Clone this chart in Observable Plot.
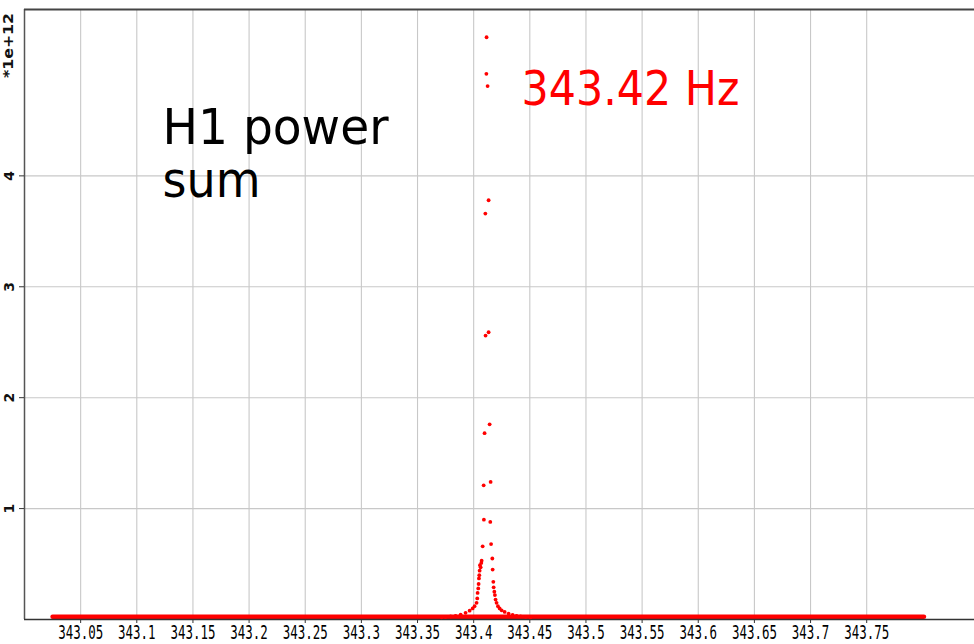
<!DOCTYPE html>
<html><head><meta charset="utf-8">
<script src="https://cdn.jsdelivr.net/npm/d3@7"></script>
<script src="https://cdn.jsdelivr.net/npm/@observablehq/plot@0.6"></script>
<style>html,body{margin:0;padding:0;background:#fff;} svg{display:block;}</style>
</head><body><div id="chart"></div>
<script>
// Frequency (Hz) of each sample around the line
const freqHz = [
  343.3715, 343.3750, 343.3795, 343.3839, 343.3884, 343.3928, 343.3964, 343.3991,
  343.4008, 343.4026, 343.4032, 343.4035, 343.4041, 343.4044, 343.4047, 343.4050,
  343.4053, 343.4056, 343.4062, 343.4068, 343.4071, 343.4080, 343.4089, 343.4091,
  343.4097, 343.4106, 343.4104, 343.4113, 343.4115, 343.4124,
  343.4133, 343.4133, 343.4142, 343.4151, 343.4148, 343.4155, 343.4166, 343.4169,
  343.4175, 343.4178, 343.4184, 343.4189, 343.4195, 343.4204, 343.4216, 343.4231,
  343.4249, 343.4276, 343.4311, 343.4347, 343.4382, 343.4418, 343.4463, 343.4507
];
// Power sum (units of 1e12)
const power = [
  0.020, 0.022, 0.027, 0.033, 0.044, 0.060, 0.080, 0.100,
  0.120, 0.150, 0.190, 0.240, 0.280, 0.320, 0.370, 0.400,
  0.440, 0.490, 0.470, 0.510, 0.530, 0.660, 1.210, 0.900,
  1.680, 2.560, 3.660, 4.920, 5.250, 4.810,
  3.780, 2.590, 1.760, 1.240, 0.880, 0.680, 0.550, 0.450,
  0.340, 0.290, 0.250, 0.220, 0.180, 0.150, 0.120, 0.100,
  0.083, 0.068, 0.053, 0.042, 0.033, 0.029, 0.024, 0.020
];
// Flat noise floor over the whole band
const baselineFreq = [343.025, 343.801];
const baselinePower = [0.025, 0.025];

const xTicks = [343.05, 343.1, 343.15, 343.2, 343.25, 343.3, 343.35, 343.4, 343.45, 343.5, 343.55, 343.6, 343.65, 343.7, 343.75];
const xTickLabels = ["343.05", "343.1", "343.15", "343.2", "343.25", "343.3", "343.35", "343.4", "343.45", "343.5", "343.55", "343.6", "343.65", "343.7", "343.75"];
const yTicks = [1, 2, 3, 4];
const yTickLabels = ["1", "2", "3", "4"];
const yExponentLabel = "*1e+12";
const titleLines = ["H1 power", "sum"];
const peakLabel = "343.42 Hz";
const xDomain = [343.0, 343.846];
const yDomain = [0, 5.5];

const points = freqHz.map((f, i) => ({f, p: power[i]}));
const base = baselineFreq.map((f, i) => ({f, p: baselinePower[i]}));

const chart = Plot.plot({
  width: 974, height: 644,
  marginLeft: 24, marginRight: 0, marginTop: 9, marginBottom: 25,
  x: {domain: xDomain},
  y: {domain: yDomain},
  style: {background: "#fff", color: "#000"},
  marks: [
    Plot.gridX(xTicks, {stroke: "#c8c8c8", strokeOpacity: 1, strokeWidth: 1.1}),
    Plot.gridY(yTicks, {stroke: "#c8c8c8", strokeOpacity: 1, strokeWidth: 1.1}),
    Plot.ruleX([xDomain[0]], {stroke: "#555", strokeWidth: 1.5}),
    Plot.ruleY([yDomain[1]], {stroke: "#444", strokeWidth: 2.2}),
    Plot.line(base, {x: "f", y: "p", stroke: "#ff0000", strokeWidth: 4.5}),
    Plot.ruleY([0], {stroke: "#333", strokeWidth: 1.5}),
    Plot.dot(points, {x: "f", y: "p", r: 1.9, fill: "#ff0000", stroke: null}),
    Plot.axisX({ticks: xTicks, tickFormat: d => xTickLabels[xTicks.indexOf(d)], tickSize: 4, tickPadding: 2,
      fontSize: 15, fontFamily: "DejaVu Sans Mono", label: null, stroke: "#333"}),
    Plot.axisY({ticks: yTicks, tickFormat: () => "", tickSize: 5, label: null, stroke: "#333"}),
    Plot.text(yTicks, {frameAnchor: "left", y: d => d, text: (d, i) => yTickLabels[i], rotate: -90, dx: -15,
      textAnchor: "middle", lineAnchor: "middle", fontSize: 14, fontWeight: "bold", fontFamily: "DejaVu Sans", fill: "#111"}),
    Plot.text([yExponentLabel], {frameAnchor: "top-left", text: d => d, rotate: -90, dx: -16, dy: 36,
      textAnchor: "middle", lineAnchor: "middle", fontSize: 14, fontWeight: "bold", fontFamily: "DejaVu Sans", fill: "#111"}),
    Plot.text([titleLines[0]], {frameAnchor: "top-left", text: d => d, dx: 138, dy: 100, textAnchor: "start", lineAnchor: "top",
      fontSize: 49, fontFamily: "DejaVu Sans", fill: "#000"}),
    Plot.text([titleLines[1]], {frameAnchor: "top-left", text: d => d, dx: 138, dy: 153, textAnchor: "start", lineAnchor: "top",
      fontSize: 49, fontFamily: "DejaVu Sans", fill: "#000"}),
    Plot.text([peakLabel], {frameAnchor: "top-left", text: d => d, dx: 497, dy: 61, textAnchor: "start", lineAnchor: "top",
      fontSize: 48, fontFamily: "DejaVu Sans", fill: "#ff0000"})
  ]
});

const lengths = {"H1 power": 226, "sum": 98, "343.42 Hz": 218, "*1e+12": 65};
d3.select(chart).selectAll("text").each(function() {
  const t = this.textContent;
  if (xTickLabels.includes(t)) {
    const tr = this.getAttribute("transform") || "";
    this.setAttribute("transform", tr + " scale(0.83,1.3)");
  } else if (lengths[t] != null) {
    this.setAttribute("textLength", lengths[t]);
    this.setAttribute("lengthAdjust", "spacingAndGlyphs");
  }
});
document.getElementById("chart").append(chart);
</script>
</body></html>
